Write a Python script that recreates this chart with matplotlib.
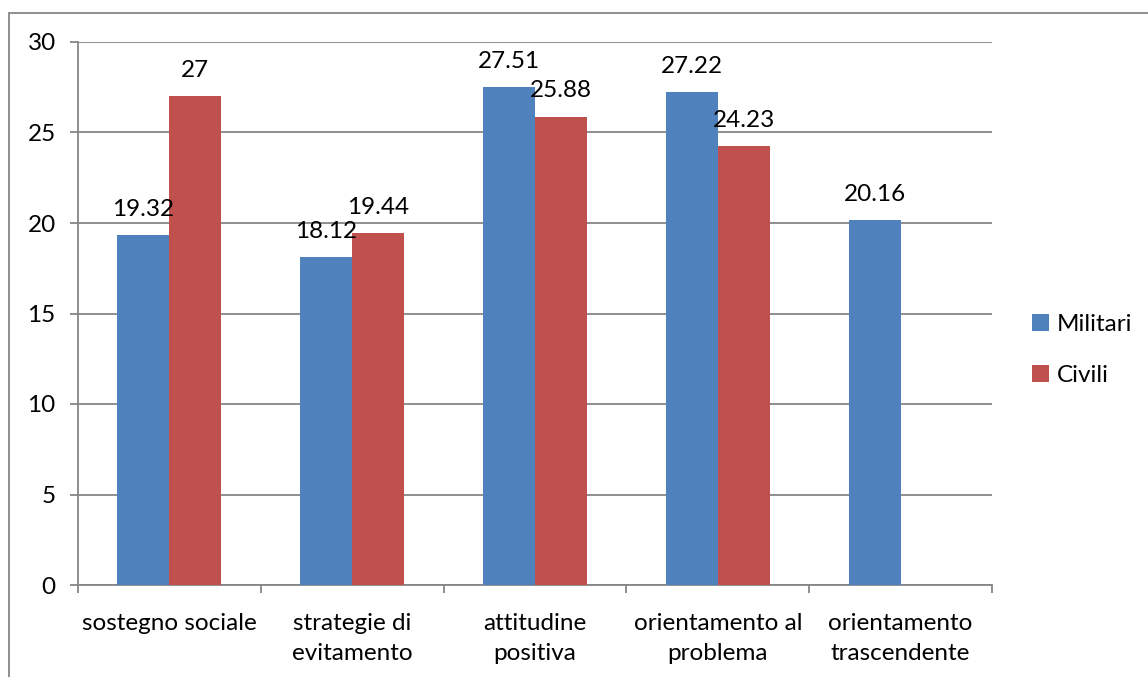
import matplotlib
matplotlib.use("Agg")
import matplotlib.pyplot as plt
import numpy as np
from matplotlib.patches import Rectangle

categories = ["sostegno sociale", "strategie di\nevitamento", "attitudine\npositiva",
              "orientamento al\nproblema", "orientamento\ntrascendente"]
militari = [19.32, 18.12, 27.51, 27.22, 20.16]
civili = [27, 19.44, 25.88, 24.23, None]
series_names = ["Militari", "Civili"]
yticks = [0, 5, 10, 15, 20, 25, 30]

BLUE = "#4F81BD"
RED = "#C0504D"
GRAY = "#868686"
FONT = "Lato"
FS = 17.5

W, H = 1148, 677
fig = plt.figure(figsize=(W / 100, H / 100), dpi=100)
fig.patches.append(Rectangle((9 / W, -0.1), 1.2, 1.1 - 13 / H, transform=fig.transFigure,
                             fill=False, edgecolor=GRAY, linewidth=1.3, zorder=0))
ax = fig.add_axes([78 / W, 1 - 585 / H, (992 - 78) / W, (585 - 42) / H])

x = np.arange(len(categories))
bw = 0.284
mv = np.array(militari, dtype=float)
cv = np.array([np.nan if v is None else v for v in civili], dtype=float)
b1 = ax.bar(x - bw / 2, mv, bw, color=BLUE, label=series_names[0], zorder=3)
b2 = ax.bar(x + bw / 2, np.nan_to_num(cv), bw, color=RED, label=series_names[1], zorder=3)

def fmt(v):
    return f"{v:g}"

OFF = 26
for xi, v in zip(x, mv):
    ax.annotate(fmt(v), (xi - bw / 2, v), xytext=(0, OFF), textcoords="offset pixels",
                ha="center", va="center", fontsize=FS, family=FONT, zorder=5)
for xi, v in zip(x, cv):
    if not np.isnan(v):
        ax.annotate(fmt(v), (xi + bw / 2, v), xytext=(0, OFF), textcoords="offset pixels",
                    ha="center", va="center", fontsize=FS, family=FONT, zorder=5)

ax.set_xlim(-0.5, len(categories) - 0.5)
ax.set_ylim(0, 30)
ax.set_yticks(yticks)
ax.set_yticklabels([str(t) for t in yticks], fontsize=FS, family=FONT)
ax.yaxis.grid(True, color=GRAY, linewidth=1.3, zorder=0)
ax.set_axisbelow(True)

ax.set_xticks(x)
ax.set_xticklabels(categories, fontsize=FS, family=FONT, linespacing=1.55)
ax.set_xticks(np.arange(len(categories) + 1) - 0.5, minor=True)
ax.tick_params(axis="x", which="major", length=0, pad=20)
ax.tick_params(axis="x", which="minor", length=6, color=GRAY, width=1.3, direction="out")
ax.tick_params(axis="y", length=6, color=GRAY, width=1.3, direction="out", pad=10)

for s in ["top", "right"]:
    ax.spines[s].set_visible(False)
for s in ["left", "bottom"]:
    ax.spines[s].set_color(GRAY)
    ax.spines[s].set_linewidth(1.3)

leg = fig.legend(handles=[b1, b2], labels=series_names, loc="center left",
                 bbox_to_anchor=(1025 / W, 1 - 350 / H), frameon=False,
                 prop={"family": FONT, "size": FS}, handlelength=0.7, handleheight=0.7,
                 handletextpad=0.3, labelspacing=1.25, borderaxespad=0, borderpad=0.3)

fig.savefig("out.png", dpi=100)
